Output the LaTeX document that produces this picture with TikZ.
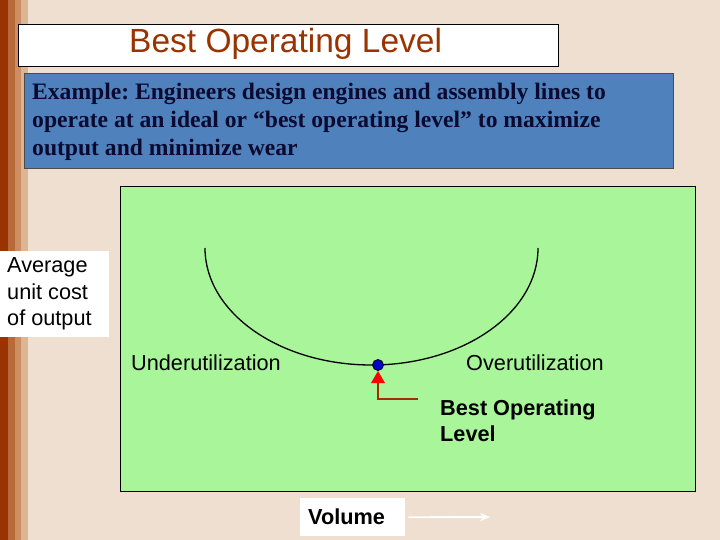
\documentclass[tikz,border=0pt]{standalone}
\usepackage{fontspec}
\setmainfont{Liberation Sans}
\newfontfamily\serifb{Liberation Serif}
\usetikzlibrary{arrows.meta}
\definecolor{bg}{HTML}{EEDFD0}
\definecolor{st1}{HTML}{993300}
\definecolor{st2}{HTML}{B8693A}
\definecolor{st3}{HTML}{CC8E62}
\definecolor{st4}{HTML}{DDB592}
\definecolor{ttl}{HTML}{993300}
\definecolor{bluebox}{HTML}{4F81BD}
\definecolor{navy}{HTML}{0A0A30}
\definecolor{grn}{HTML}{A8F59A}
\tikzset{lbl/.style={font=\fontsize{21.7}{26}\selectfont,inner sep=0pt,align=left}}
\frenchspacing
\begin{document}
\begin{tikzpicture}[x=1pt,y=-1pt]
\useasboundingbox (0,0) rectangle (720,540);
\fill[bg] (0,0) rectangle (720,540);
\fill[st4] (0,0) rectangle (28,540);
\fill[st3] (0,0) rectangle (21,540);
\fill[st2] (0,0) rectangle (15,540);
\fill[st1] (0,0) rectangle (8,540);
\node[draw=black,fill=white,minimum width=540pt,minimum height=42pt,anchor=north west,inner sep=0pt] (title) at (18,24) {};
\node[font=\fontsize{33.5}{36}\selectfont,text=ttl,anchor=west,inner sep=0pt] (tt) at (129,44) {Best Operating Level};
\node[draw=black!70,fill=bluebox,minimum width=649pt,minimum height=95pt,anchor=north west,inner sep=0pt] (ex) at (24,73) {};
\node[anchor=west,text=navy,font=\serifb\bfseries\fontsize{23.6}{28}\selectfont,align=left,inner sep=0pt] (ext) at (32,122) {Example: Engineers design engines and assembly lines to\\operate at an ideal or “best operating level” to maximize\\output and minimize wear};
\node[draw=black,fill=grn,minimum width=575pt,minimum height=305pt,anchor=north west,inner sep=0pt,line width=1.3pt] (g) at (120,186) {};
\node[fill=white,minimum width=109pt,minimum height=86pt,anchor=north west,inner sep=0pt] (avgb) at (0,251) {};
\node[lbl,anchor=west,font=\fontsize{21.7}{26.5}\selectfont] (avg) at (7,294) {Average\\unit cost\\of output};
\draw[line width=1.3pt] (205,248) arc[start angle=180,end angle=360,x radius=166.5pt,y radius=117pt];
\node[lbl,anchor=west] (u) at (131,363) {Underutilization};
\node[lbl,anchor=west] (o) at (466,363) {Overutilization};
\fill[blue!80!black] (378,365) circle (5.5pt);
\draw[black,line width=0.8pt] (378,365) circle (5.5pt);
\coordinate (ar) at (418,399);
\coordinate (ac) at (378,399);
\coordinate (at) at (378,371);
\draw[st1!90!red,line width=1.5pt] (ar) -- (ac) -- (378,382);
\fill[red] (at) -- (371,383) -- (385,383) -- cycle;
\node[lbl,anchor=west,font=\bfseries\fontsize{21.7}{26}\selectfont] (bol) at (440,421) {Best Operating\\Level};
\node[fill=white,minimum width=105pt,minimum height=38pt,anchor=north west,inner sep=0pt] (vb) at (300,498) {};
\node[lbl,anchor=west,font=\bfseries\fontsize{21.7}{26}\selectfont] (v) at (308,517) {Volume};
\coordinate (va) at (490,517);
\draw[white,line width=1.8pt,-{Stealth[length=10pt,width=8pt]}] (vb.east)++(3,0) -- (va);
\end{tikzpicture}
\end{document}
